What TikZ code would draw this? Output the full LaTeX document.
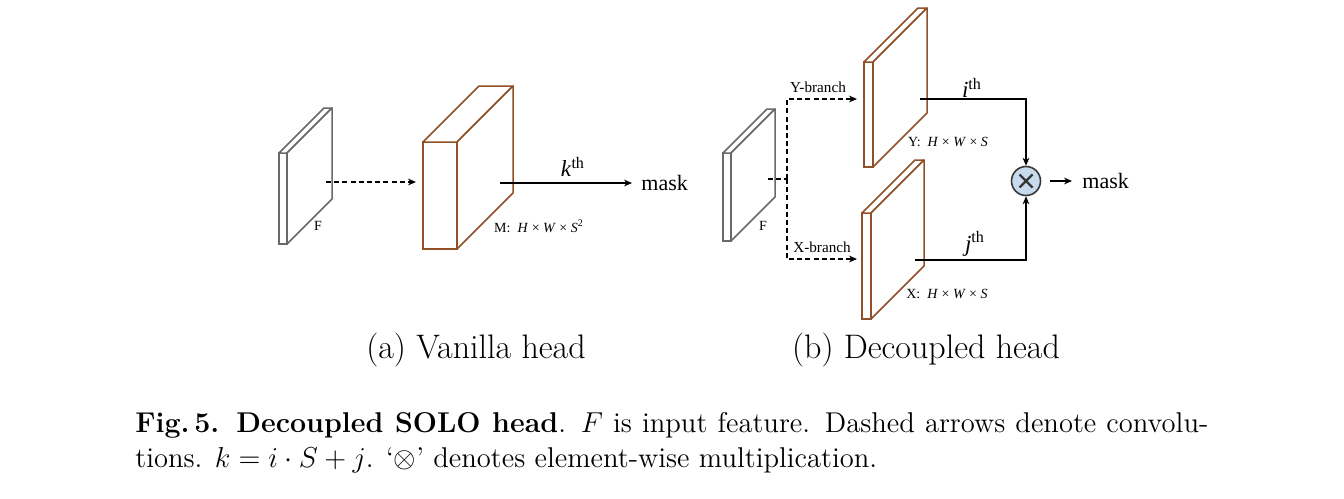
\documentclass[tikz,border=0pt]{standalone}
\usepackage{fontspec}
\newfontfamily\lab{Liberation Serif}
\usetikzlibrary{arrows.meta,calc}
\definecolor{plgray}{RGB}{105,105,105}
\definecolor{plbrown}{RGB}{145,80,40}
\definecolor{circfill}{RGB}{200,219,238}
\definecolor{circline}{RGB}{55,55,55}
\tikzset{
  tip/.style={-{Stealth[length=4pt,width=3.4pt]}, line width=0.65pt},
  dashln/.style={dash pattern=on 2.5pt off 1.6pt},
  small/.style={font=\lab\fontsize{7}{8}\selectfont, inner sep=0pt},
  branch/.style={font=\lab\fontsize{7.6}{9}\selectfont, inner sep=0pt},
  big/.style={font=\lab\fontsize{11.5}{13}\selectfont, inner sep=0pt},
  masklab/.style={font=\lab\fontsize{11}{13}\selectfont, inner sep=2pt},
  sub/.style={font=\fontsize{17}{20}\selectfont, inner sep=0pt},
}
\newcommand\plate[7]{%
  \node[draw=#7, fill=white, line width=0.75pt, inner sep=0pt, outer sep=0pt,
        minimum width=#4*0.5pt, minimum height=#5*0.5pt, anchor=north west] (#1) at (#2,#3) {};
  \draw[#7, fill=white, line width=0.75pt, line join=round]
    (#1.north west) -- ++(#6,-#6) -- ++(#4,0) -- (#1.north east) -- cycle;
  \draw[#7, fill=white, line width=0.75pt, line join=round]
    (#1.north east) -- ++(#6,-#6) -- ++(0,#5) -- (#1.south east) -- cycle;
}
\begin{document}
\begin{tikzpicture}[x=0.5pt,y=-0.5pt]
\fill[white] (0,0) rectangle (1344,498);
\useasboundingbox (0,0) rectangle (1344,498);

% ---------- (a) Vanilla head ----------
\plate{Fa}{279}{153}{8}{91}{45}{plgray}
\plate{Ma}{423}{142}{34}{107}{56}{plbrown}
\coordinate (fa-out) at (326,182);
\coordinate (ma-in) at (416,182);
\draw[tip, dashln] (fa-out) -- (ma-in);
\node[small] (Fa-lab) at (318,226) {F};
\node[small] (Ma-lab) at (539,226) {M:\ \ \textit{H} × \textit{W} × \textit{S}\textsuperscript{2}};
\coordinate (ma-out) at (500,183);
\node[masklab, anchor=west] (maska) at (637,183) {mask};
\draw[tip, shorten >=2.5pt] (ma-out) -- (maska.west);
\node[big] (ka) at (573,167) {\textit{k}\textsuperscript{th}};

% ---------- (b) Decoupled head ----------
\plate{Fb}{723}{153}{8}{88}{44}{plgray}
\plate{Yb}{864}{62}{9}{105}{54}{plbrown}
\plate{Xb}{862}{213}{9}{106}{53}{plbrown}
\node[small] (Fb-lab) at (763,226) {F};
\coordinate (fb-out) at (768,179);
\coordinate (jn) at (787,179);
\coordinate (yb-in) at (857,99);
\coordinate (xb-in) at (857,259);
\draw[dashln, line width=0.65pt] (fb-out) -- (jn);
\draw[tip, dashln] (jn) |- (yb-in);
\draw[tip, dashln] (jn) |- (xb-in);
\node[branch] (yb-lab) at (818,87) {Y-branch};
\node[branch] (xb-lab) at (822,247) {X-branch};
\node[small] (Yb-dim) at (948,142) {Y:\ \ \textit{H} × \textit{W} × \textit{S}};
\node[small] (Xb-dim) at (947,294) {X:\ \ \textit{H} × \textit{W} × \textit{S}};

\node[circle, draw=circline, fill=circfill, line width=0.8pt, inner sep=0pt,
      minimum size=29*0.5pt] (mul) at (1026,181) {};
\draw[circline, line width=1.1pt] ($(mul)+(-6.5,-6.5)$) -- ($(mul)+(6.5,6.5)$);
\draw[circline, line width=1.1pt] ($(mul)+(-6.5,6.5)$) -- ($(mul)+(6.5,-6.5)$);

\coordinate (yb-out) at (920,99);
\coordinate (xb-out) at (915,260);
\draw[tip] (yb-out) -| (mul.north);
\draw[tip] (xb-out) -| (mul.south);
\node[big] (ib) at (972,88) {\textit{i}\textsuperscript{th}};
\node[big] (jb) at (975,244) {\textit{j}\textsuperscript{th}};
\node[masklab, anchor=west] (maskb) at (1078,181) {mask};
\draw[tip, shorten <=4.5pt, shorten >=3pt] (mul.east) -- (maskb.west);

% ---------- captions ----------
\node[sub] (suba) at (476,350) {(a) Vanilla head};
\node[sub] (subb) at (926,350) {(b) Decoupled head};
\node[anchor=base west, text width=536.5pt, align=justify, inner sep=0pt,
      font=\fontsize{14.3}{17.5}\selectfont] (cap) at (135,432.5)
  {\textbf{Fig.\,5. Decoupled SOLO head}. $F$ is input feature. Dashed arrows denote convolu-\linebreak
   tions. $k=i\cdot S+j$. `$\otimes$' denotes element-wise multiplication.};
\end{tikzpicture}
\end{document}
